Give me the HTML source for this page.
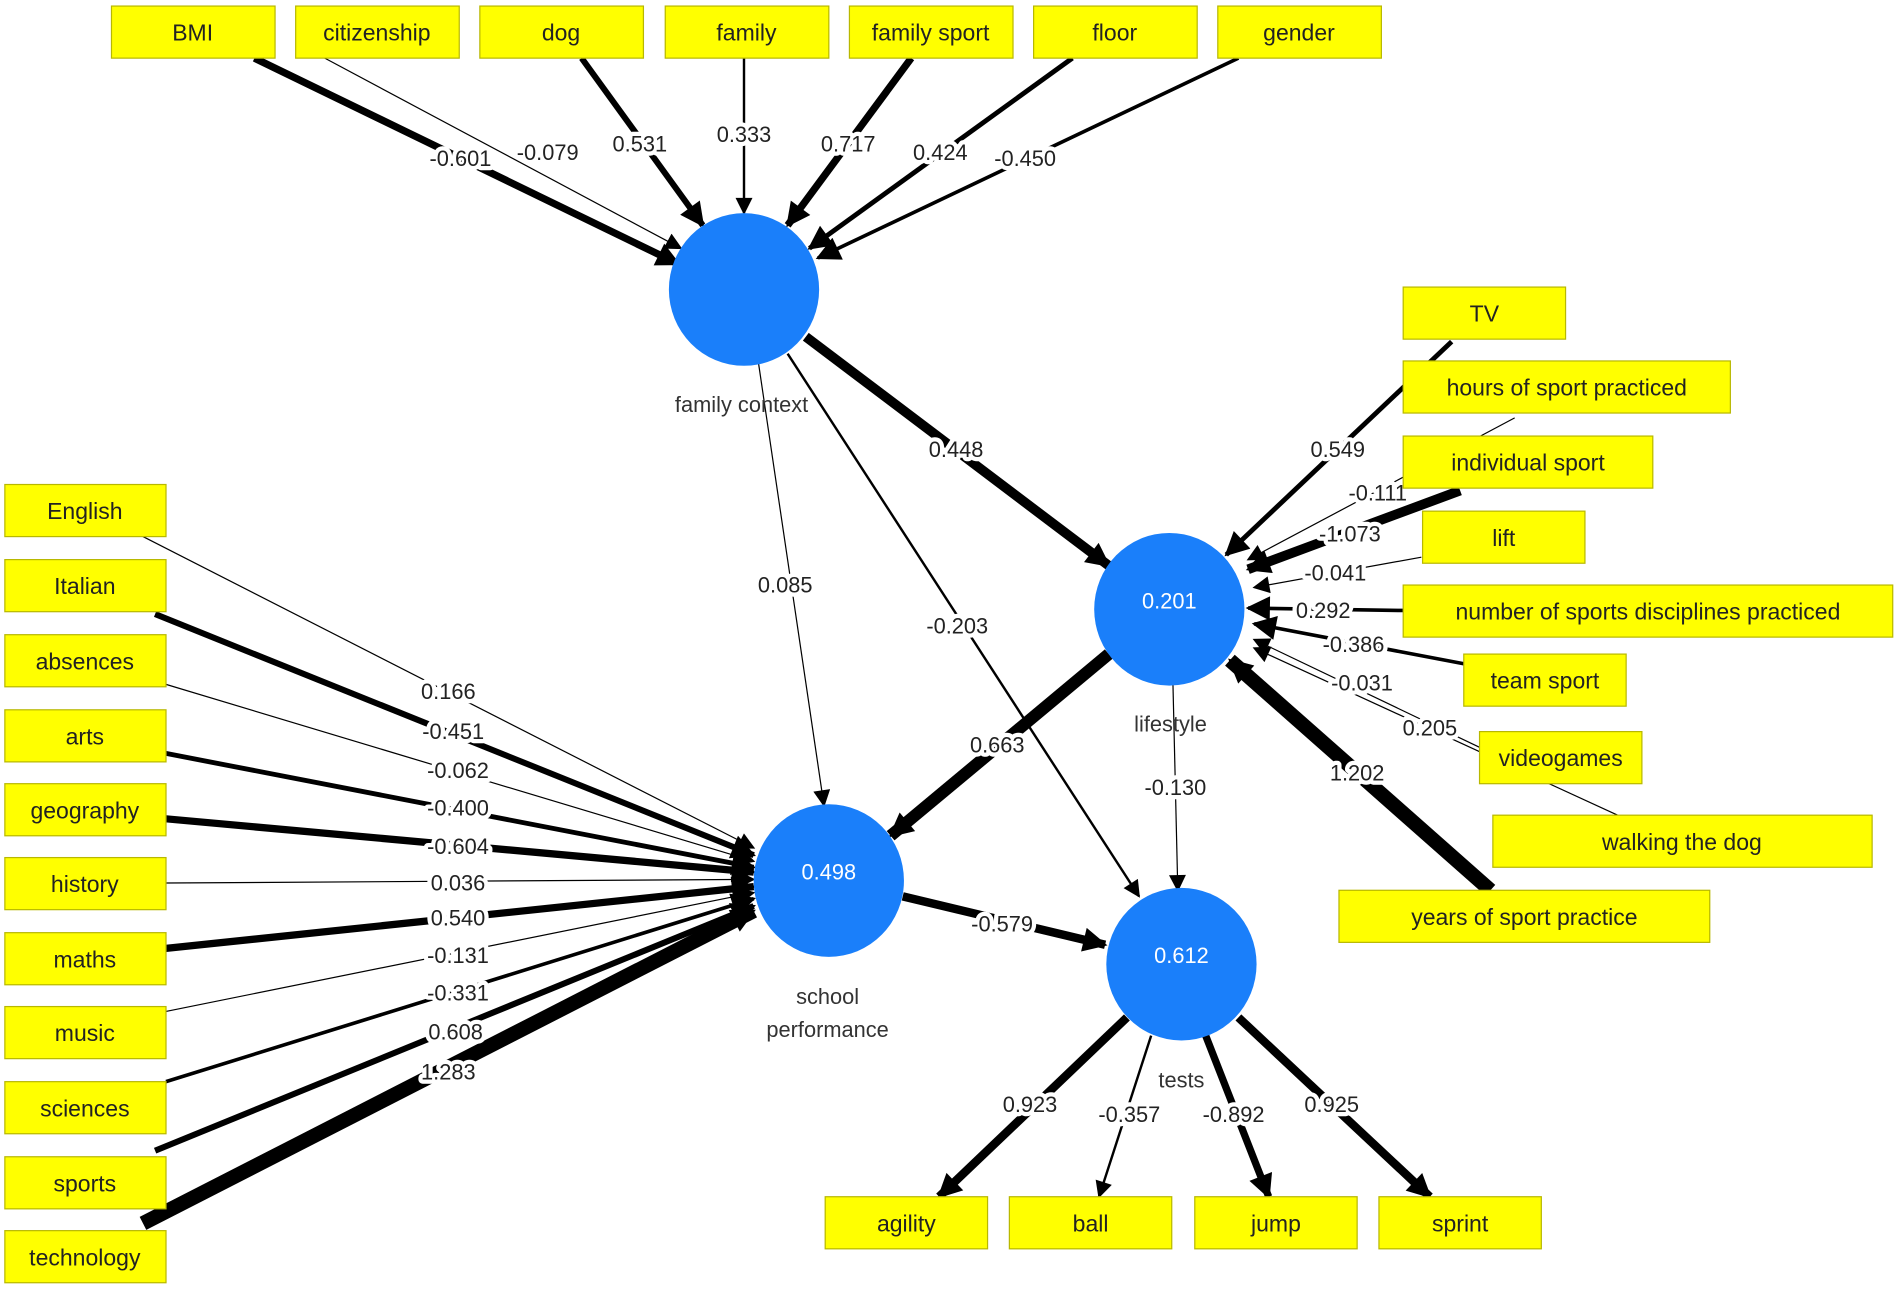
<!DOCTYPE html>
<html><head><meta charset="utf-8"><style>
html,body{margin:0;padding:0;background:#fff;}
svg{display:block}
.b{fill:#ffff00;stroke:#b8b800;stroke-width:1}
.bt{font-family:"Liberation Sans",sans-serif;font-size:19px;fill:#222;text-anchor:middle;dominant-baseline:central}
.l{font-family:"Liberation Sans",sans-serif;font-size:18px;fill:#222;text-anchor:middle;dominant-baseline:central;paint-order:stroke;stroke:#fff;stroke-width:7px;stroke-linejoin:round}
.e{stroke:#000;fill:none}
.c{fill:#1a7ffa}
.ct{font-family:"Liberation Sans",sans-serif;font-size:18px;fill:#fff;text-anchor:middle;dominant-baseline:central}
.cl{font-family:"Liberation Sans",sans-serif;font-size:18px;fill:#333;text-anchor:middle}
</style></head><body>
<svg width="1900" height="1290" viewBox="0 0 1568 1065" preserveAspectRatio="none" xmlns="http://www.w3.org/2000/svg">
<defs>
<marker id="a" viewBox="0 0 10 10" refX="9" refY="5" markerUnits="userSpaceOnUse" markerWidth="22" markerHeight="20" orient="auto"><path d="M0,0 L10,5 L0,10 z" fill="#000"/></marker>
<marker id="s" viewBox="0 0 10 10" refX="9" refY="5" markerUnits="userSpaceOnUse" markerWidth="16" markerHeight="14" orient="auto"><path d="M0,0 L10,5 L0,10 z" fill="#000"/></marker>
</defs>
<!-- edges -->
<g class="e">
<line x1="210" y1="48" x2="560" y2="218" stroke-width="6" marker-end="url(#a)"/>
<line x1="268" y1="48" x2="562" y2="205" stroke-width="1" marker-end="url(#s)"/>
<line x1="480" y1="48" x2="580" y2="186" stroke-width="5" marker-end="url(#a)"/>
<line x1="614" y1="48" x2="614" y2="176" stroke-width="2" marker-end="url(#s)"/>
<line x1="752" y1="48" x2="650" y2="186" stroke-width="6" marker-end="url(#a)"/>
<line x1="885" y1="48" x2="668" y2="205" stroke-width="4" marker-end="url(#a)"/>
<line x1="1022" y1="48" x2="675" y2="213" stroke-width="3" marker-end="url(#a)"/>
<line x1="665" y1="278" x2="915" y2="467" stroke-width="8" marker-end="url(#a)"/>
<line x1="626" y1="300" x2="680" y2="665" stroke-width="1" marker-end="url(#s)"/>
<line x1="650" y1="292" x2="940" y2="740" stroke-width="2" marker-end="url(#s)"/>
<line x1="915" y1="540" x2="735" y2="690" stroke-width="10" marker-end="url(#a)"/>
<line x1="968" y1="565" x2="972" y2="735" stroke-width="1" marker-end="url(#s)"/>
<line x1="745" y1="740" x2="912" y2="780" stroke-width="7" marker-end="url(#a)"/>
<line x1="930" y1="840" x2="775" y2="988" stroke-width="7" marker-end="url(#a)"/>
<line x1="950" y1="855" x2="907" y2="988" stroke-width="2" marker-end="url(#s)"/>
<line x1="995" y1="855" x2="1047" y2="988" stroke-width="6" marker-end="url(#a)"/>
<line x1="1022" y1="840" x2="1180" y2="988" stroke-width="7" marker-end="url(#a)"/>
<line x1="1198" y1="282" x2="1012" y2="458" stroke-width="4" marker-end="url(#a)"/>
<line x1="1250" y1="345" x2="1030" y2="462" stroke-width="1" marker-end="url(#s)"/>
<line x1="1205" y1="405" x2="1030" y2="470" stroke-width="8" marker-end="url(#a)"/>
<line x1="1173" y1="460" x2="1035" y2="485" stroke-width="1" marker-end="url(#s)"/>
<line x1="1158" y1="504" x2="1030" y2="502" stroke-width="3" marker-end="url(#a)"/>
<line x1="1208" y1="548" x2="1035" y2="515" stroke-width="3" marker-end="url(#a)"/>
<line x1="1221" y1="617" x2="1035" y2="528" stroke-width="1" marker-end="url(#s)"/>
<line x1="1335" y1="673" x2="1035" y2="535" stroke-width="1" marker-end="url(#s)"/>
<line x1="1230" y1="735" x2="1015" y2="545" stroke-width="12" marker-end="url(#a)"/>
<line x1="118" y1="443" x2="622" y2="700" stroke-width="1" marker-end="url(#s)"/>
<line x1="128" y1="507" x2="622" y2="706" stroke-width="5" marker-end="url(#a)"/>
<line x1="137" y1="565" x2="622" y2="711" stroke-width="1" marker-end="url(#s)"/>
<line x1="137" y1="622" x2="622" y2="716" stroke-width="4" marker-end="url(#a)"/>
<line x1="137" y1="676" x2="622" y2="720" stroke-width="6" marker-end="url(#a)"/>
<line x1="137" y1="729" x2="622" y2="726" stroke-width="1" marker-end="url(#s)"/>
<line x1="137" y1="783" x2="622" y2="732" stroke-width="6" marker-end="url(#a)"/>
<line x1="137" y1="835" x2="622" y2="737" stroke-width="1" marker-end="url(#s)"/>
<line x1="137" y1="893" x2="622" y2="742" stroke-width="3" marker-end="url(#a)"/>
<line x1="128" y1="950" x2="622" y2="748" stroke-width="5" marker-end="url(#a)"/>
<line x1="118" y1="1010" x2="622" y2="752" stroke-width="12" marker-end="url(#a)"/>
</g>
<!-- circles -->
<ellipse class="c" cx="614" cy="239" rx="62" ry="63"/>
<ellipse class="c" cx="965" cy="503" rx="62" ry="63"/>
<text class="ct" x="965" y="496">0.201</text>
<ellipse class="c" cx="684" cy="727" rx="62" ry="63"/>
<text class="ct" x="684" y="720">0.498</text>
<ellipse class="c" cx="975" cy="796" rx="62" ry="63"/>
<text class="ct" x="975" y="789">0.612</text>
<text class="cl" x="612" y="340">family context</text>
<text class="cl" x="966" y="604">lifestyle</text>
<text class="cl" x="683" y="829">school</text>
<text class="cl" x="683" y="856">performance</text>
<text class="cl" x="975" y="898">tests</text>
<!-- labels -->
<g class="l">
<text x="380" y="131">-0.601</text><text x="452" y="126">-0.079</text><text x="528" y="119">0.531</text><text x="614" y="111">0.333</text><text x="700" y="119">0.717</text><text x="776" y="126">0.424</text><text x="846" y="131">-0.450</text>
<text x="789" y="371">0.448</text><text x="648" y="483">0.085</text><text x="790" y="517">-0.203</text><text x="823" y="615">0.663</text><text x="970" y="650">-0.130</text><text x="827" y="763">-0.579</text>
<text x="850" y="912">0.923</text><text x="932" y="920">-0.357</text><text x="1018" y="920">-0.892</text><text x="1099" y="912">0.925</text>
<text x="1104" y="371">0.549</text><text x="1137" y="407">-0.111</text><text x="1114" y="441">-1.073</text><text x="1102" y="473">-0.041</text><text x="1092" y="504">0.292</text><text x="1117" y="532">-0.386</text><text x="1124" y="564">-0.031</text><text x="1180" y="601">0.205</text><text x="1120" y="638">1.202</text>
<text x="370" y="571">0.166</text><text x="374" y="604">-0.451</text><text x="378" y="636">-0.062</text><text x="378" y="667">-0.400</text><text x="378" y="699">-0.604</text><text x="378" y="729">0.036</text><text x="378" y="758">0.540</text><text x="378" y="789">-0.131</text><text x="378" y="820">-0.331</text><text x="376" y="852">0.608</text><text x="370" y="885">1.283</text>
</g>
<!-- boxes -->
<g>
<rect class="b" x="92" y="5" width="135" height="43"/><text class="bt" x="159" y="27">BMI</text>
<rect class="b" x="244" y="5" width="135" height="43"/><text class="bt" x="311" y="27">citizenship</text>
<rect class="b" x="396" y="5" width="135" height="43"/><text class="bt" x="463" y="27">dog</text>
<rect class="b" x="549" y="5" width="135" height="43"/><text class="bt" x="616" y="27">family</text>
<rect class="b" x="701" y="5" width="135" height="43"/><text class="bt" x="768" y="27">family sport</text>
<rect class="b" x="853" y="5" width="135" height="43"/><text class="bt" x="920" y="27">floor</text>
<rect class="b" x="1005" y="5" width="135" height="43"/><text class="bt" x="1072" y="27">gender</text>

<rect class="b" x="4" y="400" width="133" height="43"/><text class="bt" x="70" y="422">English</text>
<rect class="b" x="4" y="462" width="133" height="43"/><text class="bt" x="70" y="484">Italian</text>
<rect class="b" x="4" y="524" width="133" height="43"/><text class="bt" x="70" y="546">absences</text>
<rect class="b" x="4" y="586" width="133" height="43"/><text class="bt" x="70" y="608">arts</text>
<rect class="b" x="4" y="647" width="133" height="43"/><text class="bt" x="70" y="669">geography</text>
<rect class="b" x="4" y="708" width="133" height="43"/><text class="bt" x="70" y="730">history</text>
<rect class="b" x="4" y="770" width="133" height="43"/><text class="bt" x="70" y="792">maths</text>
<rect class="b" x="4" y="831" width="133" height="43"/><text class="bt" x="70" y="853">music</text>
<rect class="b" x="4" y="893" width="133" height="43"/><text class="bt" x="70" y="915">sciences</text>
<rect class="b" x="4" y="955" width="133" height="43"/><text class="bt" x="70" y="977">sports</text>
<rect class="b" x="4" y="1016" width="133" height="43"/><text class="bt" x="70" y="1038">technology</text>

<rect class="b" x="1158" y="237" width="134" height="43"/><text class="bt" x="1225" y="259">TV</text>
<rect class="b" x="1158" y="298" width="270" height="43"/><text class="bt" x="1293" y="320">hours of sport practiced</text>
<rect class="b" x="1158" y="360" width="206" height="43"/><text class="bt" x="1261" y="382">individual sport</text>
<rect class="b" x="1174" y="422" width="134" height="43"/><text class="bt" x="1241" y="444">lift</text>
<rect class="b" x="1158" y="483" width="404" height="43"/><text class="bt" x="1360" y="505">number of sports disciplines practiced</text>
<rect class="b" x="1208" y="540" width="134" height="43"/><text class="bt" x="1275" y="562">team sport</text>
<rect class="b" x="1221" y="604" width="134" height="43"/><text class="bt" x="1288" y="626">videogames</text>
<rect class="b" x="1232" y="673" width="313" height="43"/><text class="bt" x="1388" y="695">walking the dog</text>
<rect class="b" x="1105" y="735" width="306" height="43"/><text class="bt" x="1258" y="757">years of sport practice</text>

<rect class="b" x="681" y="988" width="134" height="43"/><text class="bt" x="748" y="1010">agility</text>
<rect class="b" x="833" y="988" width="134" height="43"/><text class="bt" x="900" y="1010">ball</text>
<rect class="b" x="986" y="988" width="134" height="43"/><text class="bt" x="1053" y="1010">jump</text>
<rect class="b" x="1138" y="988" width="134" height="43"/><text class="bt" x="1205" y="1010">sprint</text>
</g>
</svg>
</body></html>
